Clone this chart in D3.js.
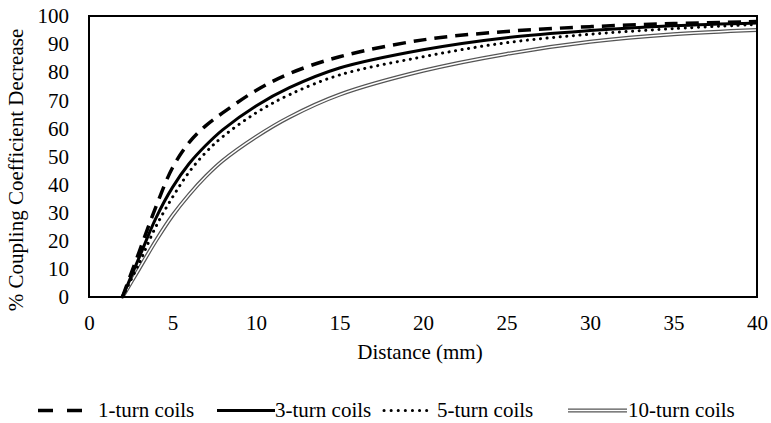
<!DOCTYPE html>
<html>
<head>
<meta charset="utf-8">
<script src="https://cdn.jsdelivr.net/npm/d3@7"></script>
<style>
  body { margin: 0; background: #fff; }
</style>
</head>
<body>
<script>
// data
const distance = [2, 3, 4, 5, 6, 7, 8, 10, 12, 15, 20, 25, 30, 35, 40];
const turn1  = [0, 16, 32, 46, 55, 61, 65.5, 73.5, 79.5, 85.5, 91.5, 94.5, 96.2, 97.3, 98];
const turn3  = [0, 14, 28, 39, 47.5, 54, 59.5, 68, 74.5, 81.5, 88, 92.3, 94.8, 96.5, 97.5];
const turn5  = [0, 12, 25, 35.5, 44.5, 51.5, 57, 65.5, 72, 79, 85.5, 90.5, 93.5, 95.5, 97];
const turn10 = [0, 10, 20, 29, 36.5, 43, 48.5, 57, 64, 72, 80.5, 86.5, 90.8, 93.5, 95];
const seriesNames = ["1-turn coils", "3-turn coils", "5-turn coils", "10-turn coils"];
const xTicks = [0, 5, 10, 15, 20, 25, 30, 35, 40];
const yTicks = [0, 10, 20, 30, 40, 50, 60, 70, 80, 90, 100];

const font = "Liberation Serif";
const fontSize = 21;

const canvWidth = 771, canvHeight = 423;
const svg = d3.select("body").append("svg")
    .attr("width", canvWidth)
    .attr("height", canvHeight);

const plot = {left: 89, right: 757, top: 16, bottom: 297};

const xScale = d3.scaleLinear().domain([0, 40]).range([plot.left, plot.right]);
const yScale = d3.scaleLinear().domain([0, 100]).range([plot.bottom, plot.top]);

// axes (labels only, no tick marks)
const xAxis = svg.append("g")
    .attr("transform", "translate(0," + plot.bottom + ")")
    .call(d3.axisBottom(xScale).tickValues(xTicks).tickSize(0).tickPadding(18));
const yAxis = svg.append("g")
    .attr("transform", "translate(" + plot.left + ",0)")
    .call(d3.axisLeft(yScale).tickValues(yTicks).tickSize(0).tickPadding(20));
[xAxis, yAxis].forEach(a => {
    a.select(".domain").remove();
    a.attr("font-family", font).attr("font-size", fontSize);
    a.selectAll("text").attr("fill", "#000");
});

// lines
const line = d3.line()
    .x((d, i) => xScale(distance[i]))
    .y(d => yScale(d))
    .curve(d3.curveCatmullRom.alpha(0.5));

const styles = [
    {data: turn1, stroke: "#000", width: 3.5, dash: "13,8", cap: "butt"},
    {data: turn3, stroke: "#000", width: 3, dash: null, cap: "butt"},
    {data: turn5, stroke: "#000", width: 3, dash: "0.1,6.5", cap: "round"},
];

// 10-turn: double line
svg.append("path").attr("d", line(turn10))
    .attr("fill", "none").attr("stroke", "#555").attr("stroke-width", 4);
svg.append("path").attr("d", line(turn10))
    .attr("fill", "none").attr("stroke", "#fff").attr("stroke-width", 1.5);

styles.slice().reverse().forEach(s => {
    svg.append("path").attr("d", line(s.data))
        .attr("fill", "none")
        .attr("stroke", s.stroke)
        .attr("stroke-width", s.width)
        .attr("stroke-dasharray", s.dash)
        .attr("stroke-linecap", s.cap);
});

// frame
svg.append("rect")
    .attr("x", plot.left).attr("y", plot.top)
    .attr("width", plot.right - plot.left)
    .attr("height", plot.bottom - plot.top)
    .attr("fill", "none")
    .attr("stroke", "#000")
    .attr("stroke-width", 2);

// axis titles
svg.append("text")
    .attr("x", 420)
    .attr("y", 359)
    .attr("font-family", font)
    .attr("font-size", fontSize)
    .style("text-anchor", "middle")
    .text("Distance (mm)");

svg.append("text")
    .attr("transform", "rotate(-90)")
    .attr("x", -170)
    .attr("y", 23)
    .attr("font-family", font)
    .attr("font-size", fontSize)
    .style("text-anchor", "middle")
    .text("% Coupling Coefficient Decrease");

// legend
const legendY = 410.5;
const legend = [
    {x1: 38, x2: 82, tx: 98, dash: "15,14"},
    {x1: 217, x2: 275, tx: 275, dash: null},
    {x1: 384, x2: 430, tx: 437, dash: "0.1,7"},
    {x1: 568, x2: 627, tx: 628, dash: null},
];
legend.forEach((l, i) => {
    if (i === 3) {
        svg.append("line").attr("x1", l.x1).attr("x2", l.x2).attr("y1", legendY).attr("y2", legendY)
            .attr("stroke", "#555").attr("stroke-width", 4);
        svg.append("line").attr("x1", l.x1).attr("x2", l.x2).attr("y1", legendY).attr("y2", legendY)
            .attr("stroke", "#fff").attr("stroke-width", 1.5);
    } else {
        const s = styles[i];
        svg.append("line").attr("x1", l.x1).attr("x2", l.x2).attr("y1", legendY).attr("y2", legendY)
            .attr("stroke", s.stroke)
            .attr("stroke-width", s.width)
            .attr("stroke-dasharray", l.dash)
            .attr("stroke-linecap", s.cap);
    }
    svg.append("text")
        .attr("x", l.tx)
        .attr("y", 417)
        .attr("font-family", font)
        .attr("font-size", fontSize)
        .text(seriesNames[i]);
});
</script>
</body>
</html>
